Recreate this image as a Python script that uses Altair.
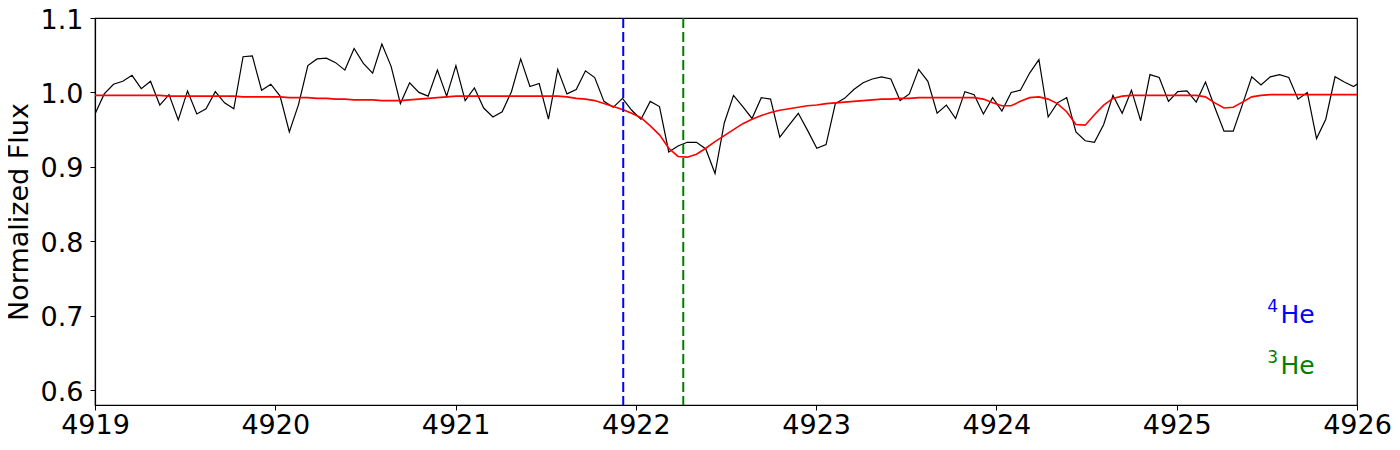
import altair as alt
import pandas as pd

# wavelength grid of the spectrum (start, step) and observed / model flux
wave_start = 4919.0
wave_step = 0.05133

flux_obs = [
    0.971, 0.998, 1.011, 1.015, 1.023, 1.005, 1.015, 0.983, 0.997, 0.963,
    1.002, 0.971, 0.978, 1.001, 0.986, 0.978, 1.048, 1.049, 1.003, 1.011,
    0.995, 0.947, 0.984, 1.036, 1.045, 1.046, 1.040, 1.030, 1.059, 1.039,
    1.026, 1.065, 1.035, 0.985, 1.013, 1.000, 0.995, 1.030, 0.995, 1.036,
    0.989, 1.006, 0.979, 0.967, 0.974, 1.001, 1.045, 1.008, 1.012, 0.964,
    1.031, 0.998, 1.004, 1.029, 1.020, 0.988, 0.980, 0.992, 0.976, 0.964,
    0.988, 0.981, 0.920, 0.928, 0.933, 0.933, 0.924, 0.891, 0.959, 0.996,
    0.981, 0.965, 0.993, 0.991, 0.940, 0.956, 0.972, 0.949, 0.925, 0.930,
    0.985, 0.992, 1.004, 1.013, 1.018, 1.021, 1.018, 0.989, 0.998, 1.031,
    1.015, 0.972, 0.983, 0.965, 1.001, 0.997, 0.971, 0.993, 0.975, 1.000,
    1.003, 1.026, 1.044, 0.967, 0.986, 0.993, 0.947, 0.935, 0.933, 0.957,
    0.996, 0.972, 1.003, 0.962, 1.024, 1.020, 0.988, 1.001, 1.002, 0.987,
    1.014, 0.980, 0.948, 0.948, 0.984, 1.021, 1.010, 1.021, 1.024, 1.020,
    0.991, 1.000, 0.938, 0.964, 1.021, 1.014, 1.008, 1.016,
]

flux_model = [
    0.996, 0.996, 0.996, 0.996, 0.996, 0.996, 0.996, 0.996, 0.995, 0.995,
    0.995, 0.995, 0.995, 0.995, 0.995, 0.995, 0.994, 0.994, 0.994, 0.994,
    0.994, 0.993, 0.993, 0.993, 0.992, 0.992, 0.991, 0.991, 0.990, 0.990,
    0.990, 0.989, 0.989, 0.989, 0.990, 0.991, 0.992, 0.993, 0.994, 0.995,
    0.995, 0.995, 0.995, 0.995, 0.995, 0.995, 0.995, 0.995, 0.995, 0.995,
    0.995, 0.994, 0.992, 0.991, 0.989, 0.985, 0.981, 0.977, 0.972, 0.966,
    0.955, 0.943, 0.925, 0.914, 0.913, 0.917, 0.925, 0.934, 0.942, 0.950,
    0.958, 0.964, 0.969, 0.973, 0.976, 0.978, 0.980, 0.982, 0.983, 0.985,
    0.986, 0.987, 0.988, 0.989, 0.990, 0.991, 0.991, 0.992, 0.992, 0.993,
    0.993, 0.993, 0.993, 0.993, 0.993, 0.993, 0.991, 0.986, 0.982, 0.982,
    0.988, 0.993, 0.994, 0.991, 0.985, 0.974, 0.957, 0.956, 0.970, 0.983,
    0.992, 0.995, 0.996, 0.996, 0.996, 0.996, 0.996, 0.996, 0.996, 0.996,
    0.994, 0.986, 0.979, 0.980, 0.987, 0.994, 0.996, 0.997, 0.997, 0.997,
    0.997, 0.997, 0.997, 0.997, 0.997, 0.997, 0.997, 0.997,
]

line_waves = [4921.930, 4922.263]
line_names = ["4He", "3He"]
line_colors = ["#0000ff", "#008000"]

sup_texts = ["4", "3"]
main_texts = ["He", "He"]

x_ticks = [4919, 4920, 4921, 4922, 4923, 4924, 4925, 4926]
y_ticks = [0.6, 0.7, 0.8, 0.9, 1.0, 1.1]

n = len(flux_obs)
waves = [round(wave_start + wave_step * i, 5) for i in range(n)]
spec = pd.DataFrame({"wave": waves, "obs": flux_obs, "model": flux_model})

xs = alt.Scale(domain=[4919, 4926], nice=False, zero=False)
ys = alt.Scale(domain=[0.58, 1.1], nice=False, zero=False)

x_enc = alt.X("wave:Q", scale=xs,
              axis=alt.Axis(values=x_ticks, format="d", title=None))
y_axis = alt.Axis(values=y_ticks, format=".1f", title="Normalized Flux",
                  titleX=-61.5, titleY=193.5, labelOffset=2)

obs_line = alt.Chart(spec).mark_line(color="black", strokeWidth=1.2, clip=True).encode(
    x=x_enc, y=alt.Y("obs:Q", scale=ys, axis=y_axis)
)
model_line = alt.Chart(spec).mark_line(color="#ff0000", strokeWidth=1.6, clip=True).encode(
    x=alt.X("wave:Q", scale=xs), y=alt.Y("model:Q", scale=ys)
)

rules_df = pd.DataFrame({"wave": line_waves, "name": line_names, "color": line_colors})
rules = alt.Chart(rules_df).mark_rule(strokeWidth=2, strokeDash=[10, 4]).encode(
    x=alt.X("wave:Q", scale=xs),
    color=alt.Color("color:N", scale=None),
)

# annotation anchors (data coordinates)
ann = pd.DataFrame({
    "sup": sup_texts,
    "main": main_texts,
    "color": line_colors,
    "sx": [4925.502, 4925.502],
    "sy": [0.7052, 0.6370],
    "mx": [4925.575, 4925.575],
    "my": [0.6897, 0.6215],
})
sup = alt.Chart(ann).mark_text(align="left", baseline="alphabetic", fontSize=17,
                               font="DejaVu Sans").encode(
    x=alt.X("sx:Q", scale=xs), y=alt.Y("sy:Q", scale=ys),
    text="sup:N", color=alt.Color("color:N", scale=None),
)
main = alt.Chart(ann).mark_text(align="left", baseline="alphabetic", fontSize=25,
                                font="DejaVu Sans").encode(
    x=alt.X("mx:Q", scale=xs), y=alt.Y("my:Q", scale=ys),
    text="main:N", color=alt.Color("color:N", scale=None),
)

chart = alt.layer(obs_line, model_line, rules, sup, main).properties(
    width=1262, height=387,
    autosize=alt.AutoSizeParams(type="none"),
    padding={"left": 87, "top": 10, "right": 35, "bottom": 37},
).configure_view(
    stroke="black", strokeWidth=1.2
).configure_axis(
    grid=False,
    domainColor="black", domainWidth=1.2,
    tickColor="black", tickSize=5, tickWidth=1,
    labelFont="DejaVu Sans", labelFontSize=27, labelColor="black",
    titleFont="DejaVu Sans", titleFontSize=27, titleColor="black",
    titleFontWeight="normal",
).configure_axisX(
    labelPadding=2, labelFlush=False,
).configure_axisY(
    labelPadding=7, labelFlush=False,
)

chart.save("out.html", embed_options={"renderer": "svg", "actions": False})
